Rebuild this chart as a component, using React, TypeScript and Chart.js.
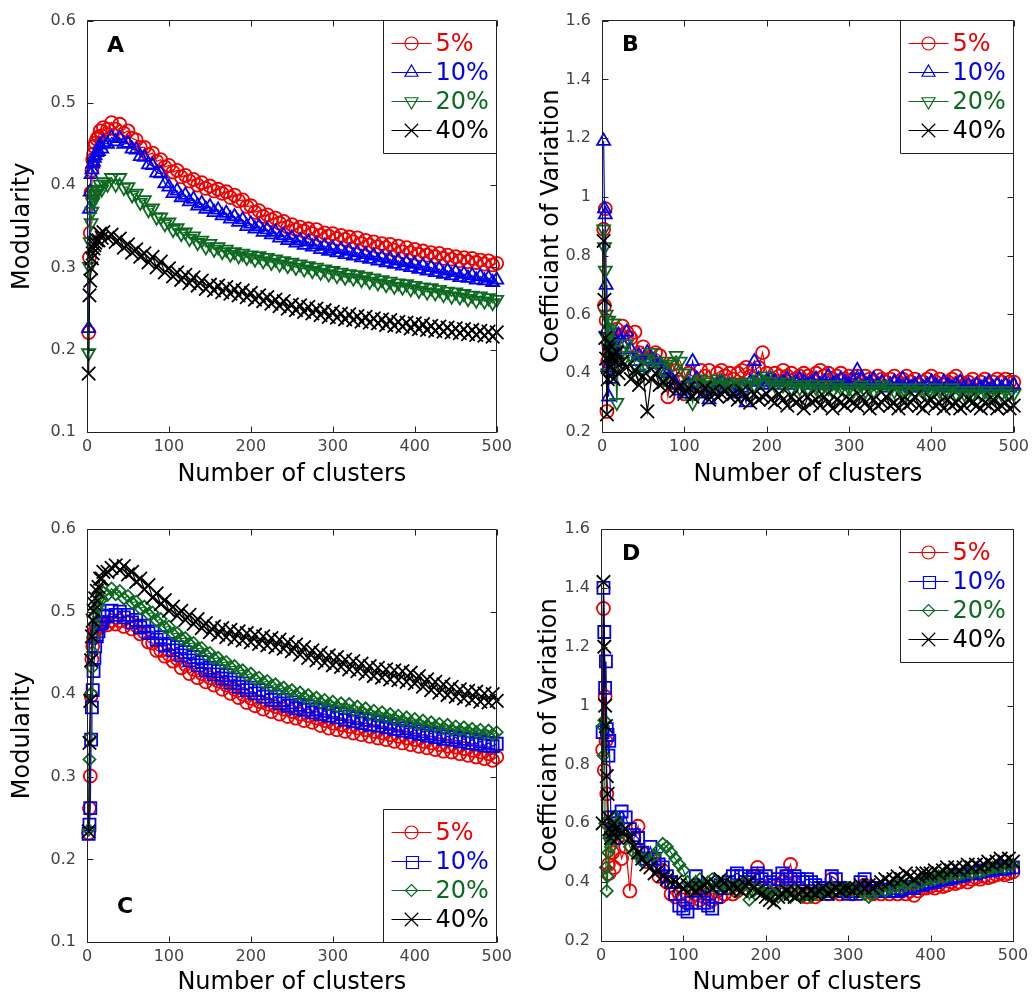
import React, { useEffect, useRef } from 'react';
import { Chart, registerables } from 'chart.js';

Chart.register(...registerables);

// ---------- shared categories / ticks ----------
const X_CLUSTERS = [
  2, 3, 4, 5, 6, 7, 8, 9, 10, 12,
  14, 16, 18, 20, 25, 30, 35, 40, 45, 50,
  55, 60, 65, 70, 75, 80, 85, 90, 95, 100,
  105, 110, 115, 120, 125, 130, 135, 140, 145, 150,
  155, 160, 165, 170, 175, 180, 185, 190, 195, 200,
  205, 210, 215, 220, 225, 230, 235, 240, 245, 250,
  255, 260, 265, 270, 275, 280, 285, 290, 295, 300,
  305, 310, 315, 320, 325, 330, 335, 340, 345, 350,
  355, 360, 365, 370, 375, 380, 385, 390, 395, 400,
  405, 410, 415, 420, 425, 430, 435, 440, 445, 450,
  455, 460, 465, 470, 475, 480, 485, 490, 495, 500,
];
const X_TICKS = [0, 100, 200, 300, 400, 500];
const MOD_TICKS = [0.1, 0.2, 0.3, 0.4, 0.5, 0.6];
const CV_TICKS = [0.2, 0.4, 0.6, 0.8, 1, 1.2, 1.4, 1.6];
const LEGEND_LABELS = ['5%', '10%', '20%', '40%'];
const SERIES_COLORS = ['#ee0000', '#0000ee', '#0b6a1f', '#000000'];
const X_TITLE = 'Number of clusters';

// ---------- Panel A: Modularity ----------
const A_MOD_5 = [
  .221, .312, .342, .391, .418, .431, .438, .447, .451, .456,
  .459, .466, .460, .470, .468, .476, .468, .474, .463, .466,
  .457, .455, .446, .446, .437, .439, .429, .431, .422, .424,
  .416, .418, .410, .412, .405, .407, .400, .403, .396, .399,
  .393, .395, .390, .392, .385, .388, .381, .382, .374, .375,
  .367, .369, .362, .364, .358, .360, .354, .356, .349, .352,
  .346, .349, .344, .347, .341, .346, .339, .342, .338, .341,
  .335, .339, .334, .337, .331, .336, .329, .333, .327, .331,
  .325, .329, .324, .328, .321, .326, .319, .324, .318, .322,
  .316, .320, .315, .318, .313, .317, .311, .315, .310, .313,
  .308, .312, .307, .311, .306, .309, .304, .308, .303, .305,
];
const A_MOD_10 = [
  .226, .371, .392, .413, .419, .426, .428, .433, .436, .440,
  .441, .449, .444, .452, .450, .458, .453, .457, .450, .451,
  .444, .443, .435, .434, .425, .424, .415, .414, .402, .398,
  .390, .393, .385, .388, .380, .383, .375, .378, .371, .374,
  .367, .370, .363, .366, .359, .362, .355, .358, .350, .353,
  .347, .350, .343, .346, .340, .343, .336, .339, .333, .336,
  .330, .333, .327, .331, .325, .328, .322, .326, .320, .323,
  .318, .322, .316, .320, .314, .318, .312, .316, .310, .314,
  .308, .312, .306, .310, .304, .308, .302, .306, .300, .304,
  .298, .302, .296, .300, .294, .298, .292, .296, .290, .294,
  .288, .292, .287, .290, .285, .289, .284, .287, .282, .285,
];
const A_MOD_20 = [
  .196, .301, .331, .354, .368, .379, .384, .388, .390, .393,
  .394, .401, .395, .404, .401, .409, .401, .409, .397, .398,
  .388, .390, .379, .382, .370, .372, .361, .361, .353, .355,
  .346, .348, .341, .343, .335, .338, .330, .333, .325, .329,
  .322, .325, .319, .322, .316, .319, .314, .317, .312, .315,
  .310, .314, .308, .312, .306, .310, .304, .308, .302, .306,
  .300, .304, .298, .302, .296, .300, .294, .298, .292, .296,
  .290, .294, .288, .292, .287, .291, .285, .289, .283, .287,
  .281, .285, .279, .283, .277, .281, .276, .280, .274, .278,
  .272, .276, .270, .275, .269, .273, .267, .271, .265, .270,
  .264, .268, .262, .266, .260, .265, .259, .263, .257, .261,
];
const A_MOD_40 = [
  .171, .266, .284, .299, .311, .317, .323, .327, .330, .333,
  .333, .341, .336, .343, .336, .340, .331, .335, .324, .328,
  .318, .322, .313, .317, .306, .313, .300, .307, .294, .299,
  .289, .294, .285, .291, .281, .288, .278, .284, .274, .279,
  .272, .278, .270, .276, .268, .274, .266, .272, .264, .269,
  .261, .266, .259, .264, .256, .261, .253, .259, .250, .255,
  .248, .254, .246, .252, .244, .250, .242, .248, .240, .246,
  .239, .244, .237, .243, .236, .241, .234, .240, .233, .238,
  .232, .237, .230, .236, .229, .234, .228, .233, .226, .232,
  .225, .231, .224, .229, .223, .228, .222, .227, .221, .226,
  .220, .225, .219, .224, .218, .223, .217, .222, .216, .221,
];

// ---------- Panel B: Coefficient of variation ----------
const B_CV_5 = [
  .89, .63, .96, .58, .27, .44, .50, .42, .47, .52,
  .50, .48, .55, .53, .56, .54, .52, .54, .47, .49,
  .45, .44, .47, .46, .42, .32, .43, .41, .37, .33,
  .40, .39, .36, .41, .39, .41, .35, .40, .41, .39,
  .40, .38, .40, .41, .42, .39, .41, .42, .47, .40,
  .38, .40, .39, .41, .39, .40, .38, .39, .40, .39,
  .38, .40, .41, .39, .40, .38, .39, .40, .38, .39,
  .38, .39, .37, .39, .38, .37, .39, .38, .37, .38,
  .39, .37, .38, .39, .37, .38, .36, .37, .38, .39,
  .37, .38, .36, .37, .38, .39, .37, .36, .37, .38,
  .36, .37, .38, .36, .37, .38, .37, .38, .37, .37,
];
const B_CV_10 = [
  1.19, .96, .94, .70, .55, .42, .32, .50, .45, .38,
  .52, .48, .44, .53, .50, .54, .48, .44, .46, .42,
  .47, .45, .44, .43, .41, .40, .38, .36, .34, .33,
  .36, .44, .38, .35, .33, .31, .34, .36, .37, .35,
  .36, .34, .33, .35, .30, .37, .44, .38, .36, .37,
  .38, .37, .36, .37, .38, .36, .37, .38, .37, .36,
  .37, .38, .36, .37, .39, .36, .37, .38, .37, .36,
  .37, .41, .38, .36, .37, .38, .36, .37, .35, .36,
  .37, .36, .38, .36, .35, .36, .37, .35, .36, .37,
  .36, .35, .37, .36, .35, .36, .37, .35, .36, .35,
  .36, .35, .36, .37, .35, .36, .35, .36, .35, .36,
];
const B_CV_20 = [
  .89, .83, .75, .60, .52, .40, .58, .45, .55, .50,
  .57, .48, .30, .46, .44, .50, .46, .43, .40, .45,
  .42, .47, .44, .42, .38, .44, .43, .46, .44, .40,
  .36, .30, .37, .38, .36, .37, .35, .38, .36, .37,
  .36, .35, .37, .36, .35, .37, .36, .38, .37, .39,
  .37, .36, .35, .36, .37, .35, .36, .35, .36, .35,
  .36, .35, .34, .36, .35, .34, .36, .35, .34, .35,
  .34, .35, .36, .34, .35, .34, .35, .36, .34, .35,
  .34, .35, .34, .33, .35, .34, .35, .34, .33, .34,
  .35, .34, .33, .34, .35, .33, .34, .33, .34, .33,
  .34, .33, .34, .33, .32, .34, .33, .34, .33, .33,
];
const B_CV_40 = [
  .85, .65, .52, .45, .26, .38, .48, .50, .42, .46,
  .38, .44, .47, .40, .44, .42, .38, .41, .36, .39,
  .27, .38, .40, .36, .37, .35, .38, .34, .36, .33,
  .35, .32, .34, .33, .35, .31, .34, .32, .33, .34,
  .32, .33, .31, .34, .32, .30, .33, .31, .32, .33,
  .31, .30, .33, .31, .29, .32, .30, .31, .28, .32,
  .30, .31, .29, .32, .30, .28, .31, .30, .29, .31,
  .30, .29, .32, .30, .28, .31, .29, .30, .32, .29,
  .30, .28, .31, .29, .30, .32, .29, .28, .30, .31,
  .29, .30, .28, .31, .29, .30, .28, .29, .31, .30,
  .29, .28, .30, .29, .31, .28, .29, .30, .28, .29,
];

// ---------- Panel C: Modularity ----------
const C_MOD_5 = [
  .232, .262, .301, .398, .442, .458, .468, .474, .477, .480,
  .480, .485, .482, .487, .484, .489, .485, .489, .482, .487,
  .479, .483, .473, .475, .463, .462, .453, .453, .446, .448,
  .440, .443, .432, .436, .425, .430, .420, .425, .415, .420,
  .411, .416, .406, .411, .401, .406, .396, .400, .390, .395,
  .386, .391, .382, .388, .379, .385, .376, .382, .373, .379,
  .371, .376, .368, .374, .366, .371, .362, .368, .359, .365,
  .357, .363, .355, .361, .353, .359, .351, .357, .349, .355,
  .347, .353, .345, .351, .343, .349, .341, .347, .339, .345,
  .337, .343, .335, .341, .333, .339, .331, .337, .330, .336,
  .328, .334, .326, .332, .324, .330, .322, .328, .320, .324,
];
const C_MOD_10 = [
  .231, .242, .262, .345, .384, .405, .428, .444, .458, .470,
  .476, .486, .487, .495, .494, .501, .496, .500, .493, .496,
  .487, .490, .481, .483, .474, .476, .466, .469, .459, .461,
  .453, .457, .447, .451, .441, .445, .435, .439, .429, .432,
  .424, .428, .419, .423, .414, .418, .409, .413, .405, .408,
  .401, .405, .397, .401, .393, .397, .389, .393, .386, .390,
  .383, .387, .381, .385, .378, .382, .376, .380, .374, .378,
  .372, .376, .369, .373, .367, .371, .365, .369, .363, .368,
  .362, .366, .360, .364, .358, .362, .356, .359, .354, .357,
  .352, .355, .350, .353, .348, .351, .346, .349, .345, .348,
  .343, .346, .341, .345, .340, .343, .338, .341, .337, .340,
];
const C_MOD_20 = [
  .236, .321, .348, .401, .432, .451, .469, .485, .494, .503,
  .508, .517, .515, .523, .520, .528, .521, .525, .516, .519,
  .511, .512, .504, .506, .497, .499, .489, .491, .481, .482,
  .473, .474, .467, .468, .461, .462, .455, .456, .448, .450,
  .443, .444, .438, .439, .433, .434, .428, .429, .423, .425,
  .418, .420, .414, .416, .410, .412, .406, .408, .403, .405,
  .399, .402, .396, .399, .393, .396, .390, .393, .388, .391,
  .385, .389, .383, .388, .381, .385, .379, .383, .376, .380,
  .374, .378, .372, .376, .370, .374, .368, .372, .366, .370,
  .364, .368, .362, .366, .361, .364, .359, .363, .357, .361,
  .356, .360, .355, .358, .354, .357, .352, .356, .351, .354,
];
const C_MOD_40 = [
  .234, .341, .392, .441, .470, .489, .501, .509, .516, .525,
  .530, .540, .540, .548, .548, .553, .556, .550, .555, .545,
  .548, .536, .540, .527, .532, .517, .522, .509, .514, .501,
  .506, .495, .501, .490, .496, .485, .491, .480, .486, .475,
  .482, .472, .480, .469, .478, .467, .476, .465, .474, .463,
  .472, .461, .470, .459, .468, .457, .466, .455, .463, .452,
  .460, .448, .457, .444, .453, .441, .450, .438, .447, .435,
  .445, .433, .442, .430, .440, .428, .437, .425, .434, .422,
  .432, .420, .430, .418, .429, .417, .428, .415, .426, .413,
  .422, .409, .418, .405, .415, .402, .412, .399, .409, .397,
  .406, .395, .404, .393, .403, .391, .401, .390, .400, .392,
];

// ---------- Panel D: Coefficient of variation ----------
const D_CV_5 = [
  .85, 1.33, .78, 1.03, .88, .70, .60, .46, .43, .55,
  .50, .45, .60, .55, .48, .52, .37, .55, .59, .50,
  .47, .48, .46, .42, .44, .40, .36, .35, .36, .34,
  .33, .35, .36, .34, .35, .36, .34, .37, .35, .36,
  .38, .36, .37, .39, .38, .40, .42, .45, .38, .37,
  .39, .36, .38, .40, .42, .46, .40, .38, .36, .35,
  .36, .35, .36, .37, .36, .41, .37, .36, .38, .37,
  .36, .37, .38, .39, .37, .36, .37, .36, .37, .36,
  .37, .36, .37, .36, .37, .355, .37, .38, .38, .385,
  .38, .39, .385, .39, .40, .395, .40, .41, .40, .41,
  .415, .41, .42, .415, .42, .425, .43, .425, .43, .435,
];
const D_CV_10 = [
  .91, 1.40, 1.25, 1.06, 1.15, .92, .90, .83, .88, .62,
  .58, .55, .60, .62, .64, .62, .58, .56, .55, .50,
  .48, .52, .48, .46, .45, .42, .40, .36, .32, .31,
  .30, .33, .42, .38, .33, .32, .31, .35, .39, .38,
  .40, .42, .43, .42, .40, .41, .42, .43, .41, .42,
  .40, .39, .41, .43, .42, .41, .42, .41, .40, .41,
  .40, .39, .38, .37, .36, .42, .41, .38, .37, .36,
  .37, .36, .40, .41, .38, .37, .38, .37, .375, .37,
  .38, .37, .375, .38, .385, .38, .39, .39, .395, .40,
  .40, .405, .41, .41, .415, .42, .42, .425, .43, .43,
  .43, .435, .44, .44, .44, .445, .45, .445, .45, .45,
];
const D_CV_20 = [
  .93, .83, .95, .60, .45, .37, .42, .50, .55, .52,
  .58, .56, .62, .60, .57, .56, .52, .50, .49, .47,
  .48, .47, .49, .51, .53, .52, .50, .48, .46, .44,
  .40, .38, .40, .41, .39, .40, .41, .38, .39, .40,
  .38, .39, .37, .38, .40, .34, .37, .38, .37, .36,
  .37, .36, .35, .37, .36, .35, .37, .36, .35, .36,
  .35, .36, .37, .36, .37, .38, .37, .38, .37, .38,
  .37, .38, .37, .36, .35, .36, .37, .38, .37, .38,
  .38, .39, .38, .39, .40, .39, .40, .40, .41, .41,
  .41, .42, .415, .42, .425, .43, .425, .43, .435, .43,
  .44, .435, .44, .445, .45, .45, .455, .45, .46, .46,
];
const D_CV_40 = [
  .60, 1.42, 1.20, 1.00, .93, .76, .70, .62, .58, .55,
  .57, .60, .58, .55, .57, .58, .55, .52, .50, .48,
  .46, .45, .43, .44, .42, .41, .40, .40, .39, .38,
  .39, .38, .37, .38, .39, .40, .38, .39, .41, .40,
  .38, .39, .38, .37, .39, .40, .38, .37, .36, .35,
  .34, .33, .35, .36, .37, .36, .35, .36, .37, .36,
  .37, .36, .37, .38, .36, .37, .38, .37, .38, .38,
  .37, .38, .39, .38, .39, .38, .39, .40, .41, .40,
  .41, .42, .41, .43, .42, .41, .42, .43, .43, .43,
  .44, .43, .44, .45, .44, .45, .44, .45, .46, .45,
  .46, .45, .46, .47, .46, .47, .48, .47, .48, .47,
];

// ---------- styling ----------
const FONT = 'DejaVu Sans';

type Marker = { style: string; radius: number; rotation: number };
const TOP_MARKERS: Marker[] = [
  { style: 'circle', radius: 6.5, rotation: 0 },
  { style: 'triangle', radius: 7.5, rotation: 0 },
  { style: 'triangle', radius: 7.5, rotation: 180 },
  { style: 'crossRot', radius: 9.5, rotation: 0 },
];
const BOTTOM_MARKERS: Marker[] = [
  { style: 'circle', radius: 6.5, rotation: 0 },
  { style: 'rect', radius: 8.5, rotation: 0 },
  { style: 'rectRot', radius: 6, rotation: 0 },
  { style: 'crossRot', radius: 9.5, rotation: 0 },
];

type PanelCfg = {
  id: string;
  left: number; top: number; width: number; height: number;
  area: { l: number; r: number; t: number; b: number };
  yMin: number; yMax: number; yTicks: number[]; yTitle: string;
  yTitlePad: number; xTitlePad: number;
  values: number[][]; markers: Marker[];
  legendCorner: 'tr' | 'br';
  letter: string; letterX: number; letterY: number;
};

const PANELS: PanelCfg[] = [
  {
    id: 'A', left: 0, top: 0, width: 517, height: 500,
    area: { l: 87, r: 501, t: 20, b: 432 },
    yMin: 0.1, yMax: 0.6, yTicks: MOD_TICKS, yTitle: 'Modularity',
    yTitlePad: 8.6, xTitlePad: 10.6,
    values: [A_MOD_5, A_MOD_10, A_MOD_20, A_MOD_40], markers: TOP_MARKERS,
    legendCorner: 'tr', letter: 'A', letterX: 107, letterY: 46,
  },
  {
    id: 'B', left: 517, top: 0, width: 517, height: 500,
    area: { l: 85, r: 497, t: 20, b: 432 },
    yMin: 0.2, yMax: 1.6, yTicks: CV_TICKS, yTitle: 'Coefficiant of Variation',
    yTitlePad: 20.6, xTitlePad: 10.6,
    values: [B_CV_5, B_CV_10, B_CV_20, B_CV_40], markers: TOP_MARKERS,
    legendCorner: 'tr', letter: 'B', letterX: 105, letterY: 45,
  },
  {
    id: 'C', left: 0, top: 500, width: 517, height: 503,
    area: { l: 87, r: 499, t: 29, b: 442 },
    yMin: 0.1, yMax: 0.6, yTicks: MOD_TICKS, yTitle: 'Modularity',
    yTitlePad: 8.6, xTitlePad: 5.6,
    values: [C_MOD_5, C_MOD_10, C_MOD_20, C_MOD_40], markers: BOTTOM_MARKERS,
    legendCorner: 'br', letter: 'C', letterX: 117, letterY: 407,
  },
  {
    id: 'D', left: 517, top: 500, width: 517, height: 503,
    area: { l: 84, r: 496, t: 29, b: 441 },
    yMin: 0.2, yMax: 1.6, yTicks: CV_TICKS, yTitle: 'Coefficiant of Variation',
    yTitlePad: 18.6, xTitlePad: 5.6,
    values: [D_CV_5, D_CV_10, D_CV_20, D_CV_40], markers: BOTTOM_MARKERS,
    legendCorner: 'tr', letter: 'D', letterX: 105, letterY: 54,
  },
];

function drawMarker(ctx: CanvasRenderingContext2D, m: Marker, x: number, y: number, color: string) {
  const r = m.radius;
  let rad = (m.rotation * Math.PI) / 180;
  ctx.save();
  ctx.strokeStyle = color;
  ctx.lineWidth = 1.2;
  ctx.beginPath();
  switch (m.style) {
    case 'circle':
      ctx.arc(x, y, r, 0, Math.PI * 2);
      break;
    case 'triangle':
      ctx.moveTo(x + Math.sin(rad) * r, y - Math.cos(rad) * r);
      rad += (2 * Math.PI) / 3;
      ctx.lineTo(x + Math.sin(rad) * r, y - Math.cos(rad) * r);
      rad += (2 * Math.PI) / 3;
      ctx.lineTo(x + Math.sin(rad) * r, y - Math.cos(rad) * r);
      ctx.closePath();
      break;
    case 'rect': {
      const s = Math.round(r * Math.SQRT1_2);
      ctx.rect(Math.round(x - s) + 0.5, Math.round(y - s) + 0.5, 2 * s, 2 * s);
      break;
    }
    case 'rectRot':
      ctx.moveTo(x, y - r);
      ctx.lineTo(x + r, y);
      ctx.lineTo(x, y + r);
      ctx.lineTo(x - r, y);
      ctx.closePath();
      break;
    case 'crossRot': {
      const d = r * Math.SQRT1_2;
      ctx.moveTo(x - d, y - d);
      ctx.lineTo(x + d, y + d);
      ctx.moveTo(x - d, y + d);
      ctx.lineTo(x + d, y - d);
      break;
    }
  }
  ctx.stroke();
  ctx.restore();
}

function Panel({ cfg }: { cfg: PanelCfg }) {
  const ref = useRef<HTMLCanvasElement>(null);

  useEffect(() => {
    const canvas = ref.current;
    if (!canvas) return;

    const datasets = cfg.values.map((vals, i) => ({
      label: LEGEND_LABELS[i],
      data: X_CLUSTERS.map((x, j) => ({ x, y: vals[j] })),
      borderColor: SERIES_COLORS[i],
      borderWidth: 1.2,
      pointStyle: cfg.markers[i].style as any,
      pointRadius: cfg.markers[i].radius,
      pointRotation: cfg.markers[i].rotation,
      pointBorderColor: SERIES_COLORS[i],
      pointBackgroundColor: 'rgba(0,0,0,0)',
      pointBorderWidth: 1.8,
      fill: false,
      tension: 0,
      clip: false as any,
      order: 4 - i,
    }));

    const decor = {
      id: 'decor_' + cfg.id,
      afterDatasetsDraw(chart: any) {
        const ctx: CanvasRenderingContext2D = chart.ctx;
        const { left, right, top, bottom } = chart.chartArea;
        const xs = chart.scales.x;
        const ys = chart.scales.y;
        const L = Math.floor(left) + 0.5;
        const R = Math.floor(right) + 0.5;
        const T = Math.floor(top) + 0.5;
        const B = Math.floor(bottom) + 0.5;
        ctx.save();
        ctx.strokeStyle = '#222';
        ctx.lineWidth = 1;
        ctx.beginPath();
        ctx.rect(L, T, R - L, B - T);
        const tl = 6;
        X_TICKS.forEach((v) => {
          const px = Math.round(xs.getPixelForValue(v)) + 0.5;
          ctx.moveTo(px, B); ctx.lineTo(px, B - tl);
          ctx.moveTo(px, T); ctx.lineTo(px, T + tl);
        });
        cfg.yTicks.forEach((v) => {
          const py = Math.round(ys.getPixelForValue(v)) + 0.5;
          ctx.moveTo(L, py); ctx.lineTo(L + tl, py);
          ctx.moveTo(R, py); ctx.lineTo(R - tl, py);
        });
        ctx.stroke();
        ctx.restore();

        // panel letter
        ctx.save();
        ctx.fillStyle = '#000';
        ctx.font = `bold 22px "${FONT}"`;
        ctx.textAlign = 'left';
        ctx.textBaseline = 'middle';
        ctx.fillText(cfg.letter, cfg.letterX, cfg.letterY);
        ctx.restore();

        // legend box
        const bw = 113;
        const bh = 133;
        const bx = Math.floor(right - bw) + 0.5;
        const by = cfg.legendCorner === 'tr' ? T : Math.floor(bottom - bh) + 0.5;
        ctx.save();
        ctx.fillStyle = '#fff';
        ctx.fillRect(bx, by, R - bx, bh);
        ctx.strokeStyle = '#222';
        ctx.lineWidth = 1;
        ctx.beginPath();
        ctx.rect(bx, by, R - bx, bh);
        ctx.stroke();
        ctx.restore();
        const rows = [22, 51, 80, 109];
        rows.forEach((dy, i) => {
          const y = Math.round(by + dy) + 0.5;
          const color = SERIES_COLORS[i];
          ctx.save();
          ctx.strokeStyle = color;
          ctx.lineWidth = 1.2;
          ctx.beginPath();
          ctx.moveTo(bx + 8, y);
          ctx.lineTo(bx + 48, y);
          ctx.stroke();
          ctx.restore();
          drawMarker(ctx, cfg.markers[i], bx + 28, y, color);
          ctx.save();
          ctx.font = `24px "${FONT}"`;
          ctx.fillStyle = color;
          ctx.textAlign = 'left';
          ctx.textBaseline = 'middle';
          ctx.fillText(LEGEND_LABELS[i], bx + 52, y + 1);
          ctx.restore();
        });
      },
    };

    const chart = new Chart(canvas, {
      type: 'line',
      data: { datasets: datasets as any },
      options: {
        animation: false,
        responsive: false,
        maintainAspectRatio: false,
        events: [],
        layout: {
          padding: { left: 0, top: cfg.area.t, right: cfg.width - cfg.area.r, bottom: 0 },
        },
        plugins: {
          legend: { display: false },
          tooltip: { enabled: false },
        },
        scales: {
          x: {
            type: 'linear',
            min: 0,
            max: 500,
            afterBuildTicks: (s: any) => { s.ticks = X_TICKS.map((v) => ({ value: v })); },
            afterFit: (s: any) => { s.height = cfg.height - cfg.area.b; },
            grid: { display: false, drawTicks: false },
            border: { display: false },
            ticks: {
              padding: 5,
              color: '#444',
              font: { family: FONT, size: 16 },
              maxRotation: 0,
              autoSkip: false,
              callback: (v: any) => String(v),
            },
            title: {
              display: true,
              text: X_TITLE,
              color: '#000',
              font: { family: FONT, size: 24, lineHeight: 1.2 },
              padding: { top: 0, bottom: cfg.xTitlePad },
            },
          },
          y: {
            type: 'linear',
            min: cfg.yMin,
            max: cfg.yMax,
            afterBuildTicks: (s: any) => { s.ticks = cfg.yTicks.map((v) => ({ value: v })); },
            afterFit: (s: any) => { s.width = cfg.area.l; },
            grid: { display: false, drawTicks: false },
            border: { display: false },
            ticks: {
              padding: 11,
              color: '#444',
              font: { family: FONT, size: 16 },
              autoSkip: false,
              callback: (v: any) => String(v),
            },
            title: {
              display: true,
              text: cfg.yTitle,
              color: '#000',
              font: { family: FONT, size: 24, lineHeight: 1.2 },
              padding: { top: cfg.yTitlePad, bottom: 0 },
            },
          },
        },
      } as any,
      plugins: [decor],
    });

    return () => chart.destroy();
  }, [cfg]);

  return (
    <canvas
      ref={ref}
      width={cfg.width}
      height={cfg.height}
      style={{ position: 'absolute', left: cfg.left, top: cfg.top, width: cfg.width, height: cfg.height }}
    />
  );
}

export default function App() {
  return (
    <div style={{ position: 'absolute', left: 0, top: 0, width: 1034, height: 1003, background: '#fff' }}>
      {PANELS.map((p) => (
        <Panel key={p.id} cfg={p} />
      ))}
    </div>
  );
}
